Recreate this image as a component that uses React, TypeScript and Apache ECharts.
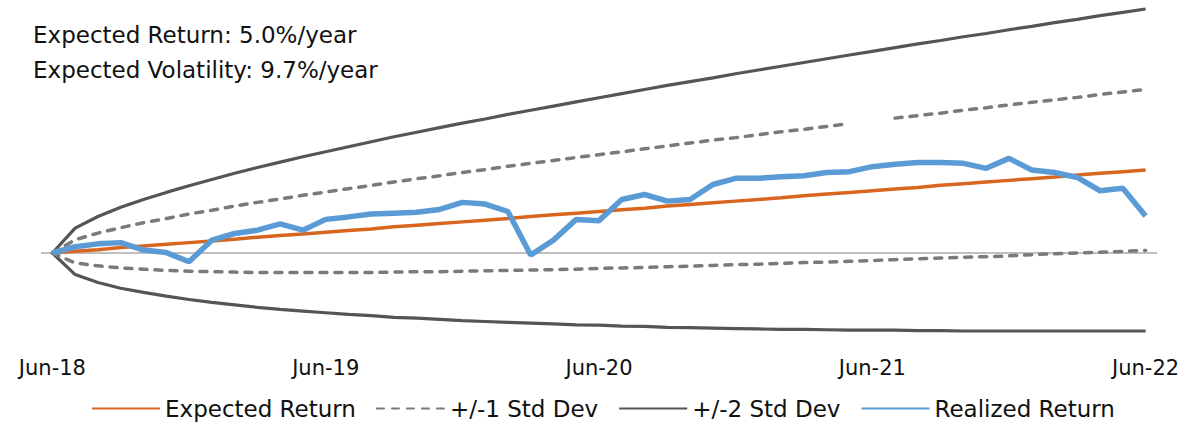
import React, { useEffect, useRef } from "react";
import * as echarts from "echarts";

const months: string[] = [
  "Jun-18", "Jul-18", "Aug-18", "Sep-18", "Oct-18", "Nov-18", "Dec-18",
  "Jan-19", "Feb-19", "Mar-19", "Apr-19", "May-19", "Jun-19", "Jul-19", "Aug-19", "Sep-19", "Oct-19", "Nov-19", "Dec-19",
  "Jan-20", "Feb-20", "Mar-20", "Apr-20", "May-20", "Jun-20", "Jul-20", "Aug-20", "Sep-20", "Oct-20", "Nov-20", "Dec-20",
  "Jan-21", "Feb-21", "Mar-21", "Apr-21", "May-21", "Jun-21", "Jul-21", "Aug-21", "Sep-21", "Oct-21", "Nov-21", "Dec-21",
  "Jan-22", "Feb-22", "Mar-22", "Apr-22", "May-22", "Jun-22",
];

// cumulative return, %
const expectedReturn: number[] = [
  0, 0.4, 0.8, 1.3, 1.7, 2.1, 2.5, 2.9, 3.3, 3.8, 4.2, 4.6, 5.0,
  5.4, 5.8, 6.3, 6.7, 7.1, 7.5, 7.9, 8.3, 8.8, 9.2, 9.6, 10.0,
  10.4, 10.8, 11.3, 11.7, 12.1, 12.5, 12.9, 13.3, 13.8, 14.2, 14.6, 15.0,
  15.4, 15.8, 16.3, 16.7, 17.1, 17.5, 17.9, 18.3, 18.8, 19.2, 19.6, 20.0,
];
const plus1Std: (number | null)[] = [
  0, 3.2, 4.8, 6.1, 7.3, 8.3, 9.4, 10.3, 11.3, 12.2, 13.0, 13.9, 14.7,
  15.5, 16.3, 17.1, 17.9, 18.6, 19.4, 20.1, 20.9, 21.6, 22.3, 23.0, 23.7,
  24.4, 25.1, 25.8, 26.5, 27.2, 27.8, 28.5, 29.2, 29.8, 30.5, 31.2, null,
  32.5, 33.1, 33.7, 34.4, 35.0, 35.7, 36.3, 36.9, 37.5, 38.2, 38.8, 39.4,
];
const minus1Std: number[] = [
  0, -2.4, -3.1, -3.6, -3.9, -4.2, -4.4, -4.5, -4.6, -4.7, -4.7, -4.7, -4.7,
  -4.7, -4.7, -4.6, -4.5, -4.5, -4.4, -4.3, -4.2, -4.1, -4.0, -3.9, -3.7,
  -3.6, -3.5, -3.3, -3.2, -3.0, -2.8, -2.7, -2.5, -2.3, -2.2, -2.0, -1.8,
  -1.6, -1.4, -1.2, -1.0, -0.9, -0.7, -0.4, -0.2, 0.0, 0.2, 0.4, 0.6,
];
const plus2Std: number[] = [
  0, 6.0, 8.8, 11.0, 12.9, 14.6, 16.2, 17.7, 19.2, 20.6, 21.9, 23.2, 24.4,
  25.6, 26.8, 28.0, 29.1, 30.2, 31.3, 32.3, 33.4, 34.4, 35.4, 36.4, 37.4,
  38.4, 39.4, 40.4, 41.3, 42.2, 43.2, 44.1, 45.0, 45.9, 46.8, 47.7, 48.6,
  49.5, 50.4, 51.2, 52.1, 52.9, 53.8, 54.6, 55.5, 56.3, 57.2, 58.0, 58.8,
];
const minus2Std: number[] = [
  0, -5.2, -7.1, -8.5, -9.5, -10.4, -11.2, -11.9, -12.5, -13.1, -13.6, -14.0, -14.4,
  -14.8, -15.1, -15.5, -15.7, -16.0, -16.3, -16.5, -16.7, -16.9, -17.1, -17.3, -17.4,
  -17.6, -17.7, -17.9, -18.0, -18.1, -18.2, -18.3, -18.4, -18.4, -18.5, -18.6, -18.6,
  -18.6, -18.7, -18.7, -18.8, -18.8, -18.8, -18.8, -18.8, -18.8, -18.8, -18.8, -18.8,
];
const realizedReturn: number[] = [
  0, 1.5, 2.2, 2.5, 0.7, 0.1, -2.1, 3.1, 4.7, 5.5, 7.0, 5.5, 8.1,
  8.7, 9.4, 9.6, 9.8, 10.5, 12.2, 11.8, 10.0, -0.5, 3.1, 8.1, 7.8,
  12.9, 14.1, 12.5, 12.9, 16.5, 18.0, 18.0, 18.4, 18.6, 19.4, 19.6, 20.8,
  21.4, 21.8, 21.8, 21.6, 20.4, 22.8, 20.0, 19.4, 18.2, 15.0, 15.6, 8.9,
];

const infoLines: string[] = [
  "Expected Return: 5.0%/year",
  "Expected Volatility: 9.7%/year",
];

const FONT = "DejaVu Sans";

export default function App() {
  const ref = useRef<HTMLDivElement>(null);
  useEffect(() => {
    if (!ref.current) return;
    const chart = echarts.init(ref.current, null, { renderer: "svg" });
    const std1Style = { color: "#7a7a7a", width: 3.5, type: [7, 8], cap: "round" };
    const std2Style = { color: "#555555", width: 3.2 };
    chart.setOption({
      animation: false,
      backgroundColor: "#ffffff",
      title: {
        text: infoLines.join("\n"),
        left: 28,
        top: 12,
        textStyle: {
          fontFamily: FONT,
          fontSize: 23,
          fontWeight: "normal",
          color: "#111",
          lineHeight: 35,
        },
      },
      legend: {
        data: ["Expected Return", "+/-1 Std Dev", "+/-2 Std Dev", "Realized Return"],
        bottom: 1,
        left: 86,
        itemWidth: 68,
        itemHeight: 10,
        itemGap: 20,
        itemStyle: { opacity: 0 },
        textStyle: { fontFamily: FONT, fontSize: 23, color: "#111" },
      },
      grid: { left: 41, right: 33, top: 4, bottom: 90, containLabel: false },
      xAxis: {
        type: "category",
        data: months,
        boundaryGap: true,
        axisLine: { show: false, onZero: false },
        axisTick: { show: false },
        axisLabel: {
          interval: 11,
          margin: 21,
          fontFamily: FONT,
          fontSize: 21,
          color: "#111",
        },
      },
      yAxis: {
        type: "value",
        min: -20,
        max: 60,
        show: false,
        splitLine: { show: false },
      },
      series: [
        {
          name: "+/-2 Std Dev",
          type: "line",
          data: plus2Std,
          symbol: "none",
          lineStyle: std2Style,
          itemStyle: { color: "#555555" },
          z: 2,
        },
        {
          name: "+/-2 Std Dev",
          type: "line",
          data: minus2Std,
          symbol: "none",
          lineStyle: std2Style,
          itemStyle: { color: "#555555" },
          z: 2,
        },
        {
          name: "+/-1 Std Dev",
          type: "line",
          data: plus1Std,
          symbol: "none",
          connectNulls: false,
          lineStyle: std1Style,
          itemStyle: { color: "#7a7a7a" },
          z: 3,
        },
        {
          name: "+/-1 Std Dev",
          type: "line",
          data: minus1Std,
          symbol: "none",
          lineStyle: std1Style,
          itemStyle: { color: "#7a7a7a" },
          z: 3,
        },
        {
          name: "Expected Return",
          type: "line",
          data: expectedReturn,
          symbol: "none",
          lineStyle: { color: "#d9661f", width: 3.5 },
          itemStyle: { color: "#d9661f" },
          z: 4,
          markLine: {
            silent: true,
            symbol: "none",
            label: { show: false },
            lineStyle: { color: "#bfbfbf", width: 2, type: "solid" },
            data: [{ yAxis: 0 }],
            z: 1,
          },
        },
        {
          name: "Realized Return",
          type: "line",
          data: realizedReturn,
          symbol: "none",
          lineStyle: { color: "#5b9bd5", width: 5.5 },
          itemStyle: { color: "#5b9bd5" },
          z: 5,
        },
      ],
    });
    return () => chart.dispose();
  }, []);
  return (
    <div
      ref={ref}
      style={{ position: "fixed", left: 0, top: 0, width: 1190, height: 426 }}
    />
  );
}
